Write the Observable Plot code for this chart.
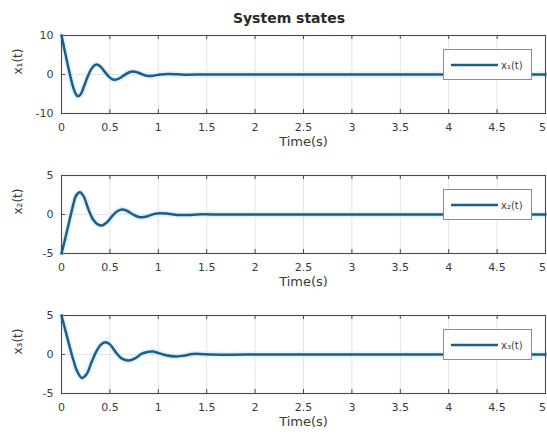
<!DOCTYPE html>
<html>
<head>
<meta charset="utf-8">
<script src="https://cdn.jsdelivr.net/npm/d3@7"></script>
<script src="https://cdn.jsdelivr.net/npm/@observablehq/plot@0.6"></script>
<style>
  body { margin: 0; background: #fff; }
  #fig { position: relative; width: 547px; height: 441px; overflow: hidden; font-family: "DejaVu Sans", sans-serif; background: #fff; }
  #fig svg.panel { position: absolute; left: 0; }
  .title { position: absolute; top: 9px; left: 189px; width: 200px; height: 18px; line-height: 18px; text-align: center; font-weight: bold; font-size: 14px; color: #2a2a2a; }
  .legend { position: absolute; left: 443px; width: 89px; height: 31px; border: 1px solid #8c8c8c; background: #fff; box-sizing: border-box; }
  .legend svg { position: absolute; left: 0; top: 0; }
</style>
</head>
<body>
<div id="fig"></div>
<script>
// ---- data ----
const figureTitle = "System states";
const xAxisLabel = "Time(s)";
const timeTicks = [0, 0.5, 1, 1.5, 2, 2.5, 3, 3.5, 4, 4.5, 5];
const timeTickLabels = ["0", "0.5", "1", "1.5", "2", "2.5", "3", "3.5", "4", "4.5", "5"];

const seriesNames = ["x₁(t)", "x₂(t)", "x₃(t)"];

const x1Ticks = [-10, 0, 10];
const x1TickLabels = ["-10", "0", "10"];
const x1Time = [0, 0.03, 0.06, 0.09, 0.12, 0.15, 0.17, 0.20, 0.23, 0.27, 0.31, 0.36, 0.40, 0.45, 0.50, 0.54, 0.58, 0.64, 0.69, 0.74, 0.79, 0.85, 0.90, 0.95, 1.02, 1.10, 1.20, 1.30, 1.45, 1.7, 5];
const x1Values = [10, 6.5, 3.0, -0.3, -3.2, -5.1, -5.6, -5.0, -3.2, -0.6, 1.5, 2.55, 2.1, 0.6, -0.8, -1.35, -1.2, -0.3, 0.45, 0.77, 0.5, -0.1, -0.4, -0.3, 0.0, 0.15, 0.05, -0.06, 0.02, 0, 0];

const x2Ticks = [-5, 0, 5];
const x2TickLabels = ["-5", "0", "5"];
const x2Time = [0, 0.04, 0.08, 0.12, 0.15, 0.19, 0.23, 0.28, 0.33, 0.38, 0.42, 0.47, 0.53, 0.58, 0.63, 0.68, 0.74, 0.79, 0.83, 0.88, 0.95, 1.02, 1.10, 1.20, 1.30, 1.45, 1.7, 5];
const x2Values = [-5, -3.0, -0.9, 1.2, 2.4, 2.86, 2.3, 0.6, -0.7, -1.3, -1.4, -1.0, -0.1, 0.45, 0.64, 0.45, 0.0, -0.28, -0.35, -0.25, 0.05, 0.17, 0.1, -0.05, -0.05, 0.02, 0, 0];

const x3Ticks = [-5, 0, 5];
const x3TickLabels = ["-5", "0", "5"];
const x3Time = [0, 0.04, 0.08, 0.12, 0.16, 0.21, 0.26, 0.31, 0.36, 0.41, 0.455, 0.50, 0.56, 0.62, 0.695, 0.76, 0.83, 0.89, 0.94, 1.0, 1.08, 1.18, 1.26, 1.35, 1.42, 1.55, 1.7, 1.9, 5];
const x3Values = [5, 3.1, 1.2, -0.6, -2.1, -3.0, -2.5, -1.0, 0.4, 1.3, 1.58, 1.3, 0.3, -0.5, -0.77, -0.5, 0.1, 0.33, 0.38, 0.2, -0.1, -0.25, -0.15, 0.05, 0.08, 0.0, -0.02, 0, 0];

// ---- styling ----
const lineColor = "#1f5d86";
const haloColor = "#c8ebf8";
const axisColor = "#4a4a4a";
const gridColor = "#e4e4e4";
const textColor = "#3a3a3a";

const fig = document.getElementById("fig");
const t = document.createElement("div");
t.className = "title";
t.textContent = figureTitle;
fig.appendChild(t);

function panel({time, values, yTicks, yTickLabels, name, top, height, marginBottom}) {
  const data = time.map((tt, i) => ({t: tt, v: values[i]}));
  const yMin = yTicks[0], yMax = yTicks[yTicks.length - 1];
  const innerH = height - 10 - marginBottom;
  const innerW = 547 - 61 - 2;
  const yTickLen = (yMax - yMin) / innerH * 4;
  const xTickLen = 5 / innerW * 4;
  const lastTick = timeTicks[timeTicks.length - 1];
  const fmtX = d => timeTickLabels[timeTicks.indexOf(d)];
  const svg = Plot.plot({
    width: 547,
    height,
    marginTop: 10,
    marginLeft: 61,
    marginRight: 2,
    marginBottom,
    style: {fontFamily: "DejaVu Sans, sans-serif", fontSize: "11px", color: textColor, background: "transparent", overflow: "visible"},
    x: {domain: [0, 5]},
    y: {domain: [yMin, yMax]},
    marks: [
      Plot.ruleX(timeTicks, {stroke: gridColor}),
      Plot.ruleY(yTicks, {stroke: gridColor}),
      Plot.line(data, {x: "t", y: "v", stroke: haloColor, strokeWidth: 6, strokeOpacity: 0.6, curve: "catmull-rom"}),
      Plot.line(data, {x: "t", y: "v", stroke: lineColor, strokeWidth: 2.5, curve: "catmull-rom"}),
      Plot.ruleX(timeTicks, {y1: yMin, y2: yMin + yTickLen, stroke: axisColor}),
      Plot.ruleX(timeTicks, {y1: yMax, y2: yMax - yTickLen, stroke: axisColor}),
      Plot.ruleY(yTicks, {x1: 0, x2: xTickLen, stroke: axisColor}),
      Plot.ruleY(yTicks, {x1: 5, x2: 5 - xTickLen, stroke: axisColor}),
      Plot.frame({stroke: axisColor, strokeWidth: 1.1}),
      Plot.axisX({ticks: timeTicks.slice(0, -1), tickSize: 0, tickPadding: 10, label: null, fill: textColor, tickFormat: fmtX}),
      Plot.axisX({ticks: [lastTick], tickSize: 0, tickPadding: 10, label: null, fill: textColor, tickFormat: fmtX, dx: -3}),
      Plot.axisY({ticks: yTicks, tickSize: 0, tickPadding: 8, label: null, fill: textColor,
        tickFormat: d => yTickLabels[yTicks.indexOf(d)]}),
      Plot.text([xAxisLabel], {frameAnchor: "bottom", dy: 32, fontSize: 13, fill: textColor}),
      Plot.text([name], {frameAnchor: "left", dx: -43, rotate: -90, fontSize: 12, fill: textColor})
    ]
  });
  svg.classList.add("panel");
  svg.style.top = top + "px";
  fig.appendChild(svg);

  // legend box
  const lg = document.createElement("div");
  lg.className = "legend";
  lg.style.top = (top + 10 + 14) + "px";
  lg.innerHTML = `<svg width="89" height="31"><line x1="7" x2="54" y1="15" y2="15" stroke="${lineColor}" stroke-width="2.5"/>` +
    `<text x="57" y="15" dy="0.35em" font-family="DejaVu Sans, sans-serif" font-size="10" fill="${textColor}">${name}</text></svg>`;
  fig.appendChild(lg);
}

panel({time: x1Time, values: x1Values, yTicks: x1Ticks, yTickLabels: x1TickLabels, name: seriesNames[0], top: 25, height: 130, marginBottom: 42});
panel({time: x2Time, values: x2Values, yTicks: x2Ticks, yTickLabels: x2TickLabels, name: seriesNames[1], top: 165, height: 130, marginBottom: 42});
panel({time: x3Time, values: x3Values, yTicks: x3Ticks, yTickLabels: x3TickLabels, name: seriesNames[2], top: 305, height: 136, marginBottom: 48});
</script>
</body>
</html>
